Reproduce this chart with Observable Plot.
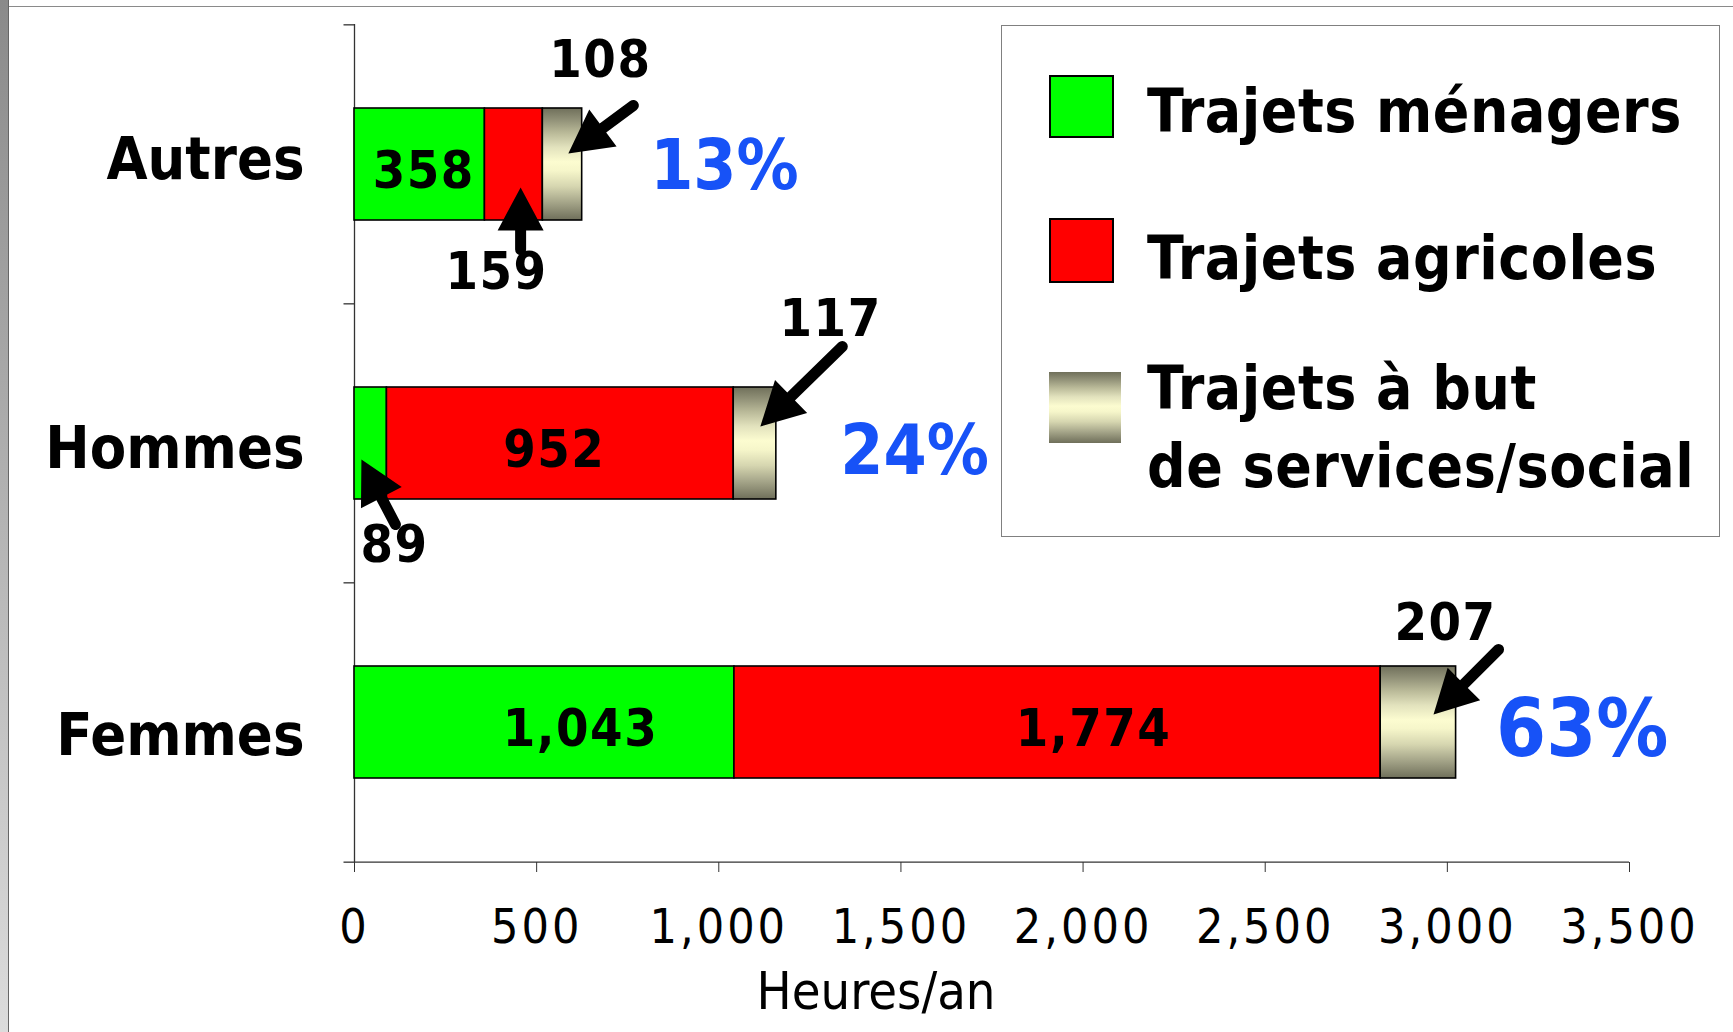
<!DOCTYPE html>
<html>
<head>
<meta charset="utf-8">
<script src="https://cdn.jsdelivr.net/npm/d3@7"></script>
<script src="https://cdn.jsdelivr.net/npm/@observablehq/plot@0.6"></script>
<style>
  html, body { margin: 0; padding: 0; background: #fff; overflow: hidden; width: 1733px; height: 1032px; }
  #chart { position: absolute; left: 0; top: 0; }
  .frameL { position: absolute; left: 0; top: 0; width: 8px; height: 1032px; background: linear-gradient(#8a8a8a, #dcdcdc); border-right: 1px solid #666; }
  .frameT { position: absolute; left: 9px; top: 6px; width: 1724px; height: 1px; background: #8a8a8a; }
  .legend { position: absolute; left: 1001px; top: 25px; width: 717px; height: 510px; border: 1.5px solid #808080; background: #fff;
            font-family: "DejaVu Sans Condensed", "DejaVu Sans", sans-serif; font-weight: bold; font-size: 60px; color: #000; }
  .legend .sw { position: absolute; left: 47px; box-sizing: border-box; }
  .legend .lbl { position: absolute; left: 145px; line-height: 78px; white-space: pre-line; letter-spacing: 0.5px; }
</style>
</head>
<body>
<div id="chart"></div>
<div class="frameL"></div>
<div class="frameT"></div>
<div class="legend" id="legend"></div>
<script>
// ---- data ----
const categories = ["Autres", "Hommes", "Femmes"];
const seriesNames = ["Trajets ménagers", "Trajets agricoles", "Trajets à but\nde services/social"];
const menagers = [358, 89, 1043];
const agricoles = [159, 952, 1774];
const services = [108, 117, 207];
const shares = ["13%", "24%", "63%"];
const xTicks = [0, 500, 1000, 1500, 2000, 2500, 3000, 3500];
const xLabel = "Heures/an";
const seriesColors = ["#00ff00", "#ff0000", "url(#svcGrad)"];

// ---- derived table ----
const seriesValues = [menagers, agricoles, services];
const rows = [];
categories.forEach((c, i) => seriesValues.forEach((v, j) => rows.push({category: c, series: seriesNames[j], si: j, value: v[i]})));
const shareRows = categories.map((c, i) => ({category: c, total: menagers[i] + agricoles[i] + services[i], share: shares[i]}));

// callouts (annotation placement: tip/label anchors in hours, pixel offsets)
const callouts = [
  {category: "Autres", si: 2, tipX: 587, tipDy: -11, tail: [65, -48], labelX: 675, labelDy: -104},
  {category: "Autres", si: 1, tipX: 456, tipDy: 23, tail: [0, 62], labelX: 390, labelDy: 108},
  {category: "Hommes", si: 2, tipX: 1114, tipDy: -17, tail: [82, -80], labelX: 1307, labelDy: -124},
  {category: "Hommes", si: 0, tipX: 19, tipDy: 16, tail: [34, 65], labelX: 110, labelDy: 102},
  {category: "Femmes", si: 2, tipX: 2962, tipDy: -8, tail: [65, -65], labelX: 2995, labelDy: -99}
];
const isCallout = d => callouts.some(c => c.category === d.category && c.si === d.si);
const fmt = d3.format(",");

// ---- layout ----
const W = 1733, H = 1032, mT = 24, mB = 170, mL = 354, mR = 104;
const step = (H - mT - mB) / categories.length;
const FONT = '"DejaVu Sans Condensed", "DejaVu Sans", sans-serif';

function arrowSymbol(tx, ty) {
  const L = Math.hypot(tx, ty), ux = tx / L, uy = ty / L, px = -uy, py = ux;
  const hl = 43, hw = 23, s = 5.5, au = Math.atan2(uy, ux);
  return {draw(ctx) {
    ctx.moveTo(0, 0);
    ctx.lineTo(hl * ux + hw * px, hl * uy + hw * py);
    ctx.lineTo(hl * ux + s * px, hl * uy + s * py);
    ctx.lineTo(L * ux + s * px, L * uy + s * py);
    ctx.arc(L * ux, L * uy, s, au + Math.PI / 2, au - Math.PI / 2, true);
    ctx.lineTo(hl * ux - s * px, hl * uy - s * py);
    ctx.lineTo(hl * ux - hw * px, hl * uy - hw * py);
    ctx.closePath();
  }};
}
const leftTick = {draw(ctx) { ctx.moveTo(-11, 0); ctx.lineTo(0, 0); }};

const pctStyles = [
  {dx: 68, dy: 2, fontSize: 69},
  {dx: 64, dy: 8, fontSize: 69},
  {dx: 40, dy: 8, fontSize: 80}
];
const catDy = [-4, 6, 14];
const innerDx = [4, -6, 36];

const marks = [
  Plot.ruleX([0], {stroke: "#333", strokeWidth: 1.3}),
  Plot.ruleY([categories[categories.length - 1]], {y: d => d, dy: step / 2, stroke: "#333", strokeWidth: 1.3}),
  Plot.dot(categories, {y: d => d, frameAnchor: "left", dy: -step / 2, symbol: leftTick, stroke: "#333", strokeWidth: 1.3, fill: "none"}),
  Plot.dot([categories[categories.length - 1]], {y: d => d, frameAnchor: "left", dy: step / 2, symbol: leftTick, stroke: "#333", strokeWidth: 1.3, fill: "none"}),
  Plot.axisX({ticks: xTicks, tickFormat: d3.format(","), tickSize: 10, tickPadding: 36, fontSize: 48, label: null, stroke: "#333"}),
  Plot.text([xLabel], {text: d => d, frameAnchor: "bottom", dx: -116, dy: 146, fontSize: 52}),
  Plot.barX(rows, Plot.stackX({x: "value", y: "category", fill: "series", stroke: "black", strokeWidth: 1.6})),
  ...categories.map((c, i) => Plot.text(rows, Plot.stackX({x: "value", y: "category",
      text: d => (d.category !== c || isCallout(d)) ? "" : fmt(d.value),
      fontSize: 52, fontWeight: "bold", dy: 7, dx: innerDx[i], fill: "black", className: "num"}))),
  ...categories.map((c, i) => Plot.text([c], {y: d => d, text: d => d, frameAnchor: "left", dx: -50, dy: catDy[i], textAnchor: "end", fontSize: 59, fontWeight: "bold", fill: "black"})),
  ...shareRows.map((r, i) => Plot.text([r], {x: "total", y: "category", text: "share", textAnchor: "start", fill: "#1752f7", fontWeight: "bold", ...pctStyles[i]})),
  ...callouts.flatMap(c => {
    const v = seriesValues[c.si][categories.indexOf(c.category)];
    return [
      Plot.dot([c], {x: "tipX", y: "category", dy: c.tipDy, symbol: arrowSymbol(c.tail[0], c.tail[1]), fill: "black", stroke: "none"}),
      Plot.text([c], {x: "labelX", y: "category", dy: c.labelDy, text: () => fmt(v), fontSize: 52, fontWeight: "bold", fill: "black", className: "num"})
    ];
  })
];

const svg = Plot.plot({
  width: W, height: H,
  marginLeft: mL, marginRight: mR, marginTop: mT, marginBottom: mB,
  style: {fontFamily: FONT, fontSize: "48px", background: "white", overflow: "visible"},
  x: {domain: [0, 3500], axis: null},
  y: {type: "band", domain: categories, paddingInner: 0.6, paddingOuter: 0.3, axis: null},
  color: {domain: seriesNames, range: seriesColors},
  marks
});

const defs = document.createElementNS("http://www.w3.org/2000/svg", "defs");
defs.innerHTML = `<linearGradient id="svcGrad" x1="0" y1="0" x2="0" y2="1">
  <stop offset="0" stop-color="#6f6f5a"/>
  <stop offset="0.1" stop-color="#8f8f76"/>
  <stop offset="0.22" stop-color="#b9b998"/>
  <stop offset="0.35" stop-color="#e2e2bd"/>
  <stop offset="0.48" stop-color="#fcfcd0"/>
  <stop offset="0.56" stop-color="#f6f6ca"/>
  <stop offset="0.7" stop-color="#d6d6b0"/>
  <stop offset="0.84" stop-color="#a6a68a"/>
  <stop offset="1" stop-color="#6f6f5a"/>
</linearGradient>`;
svg.insertBefore(defs, svg.firstChild);
svg.querySelectorAll('g[aria-label="x-axis tick label"] text').forEach(t => t.setAttribute("letter-spacing", "3"));
svg.querySelectorAll('g.num text').forEach(t => t.setAttribute("letter-spacing", "1.5"));
document.getElementById("chart").appendChild(svg);

// ---- legend ----
const legend = document.getElementById("legend");
const swatches = [
  {top: 49, w: 65, h: 63, bg: seriesColors[0], border: "2px solid #000"},
  {top: 192, w: 65, h: 65, bg: seriesColors[1], border: "2px solid #000"},
  {top: 346, w: 72, h: 71, bg: "linear-gradient(#6f6f5a, #8f8f76 10%, #b9b998 22%, #e2e2bd 35%, #fcfcd0 48%, #f6f6ca 56%, #d6d6b0 70%, #a6a68a 84%, #6f6f5a)", border: "none"}
];
const labelTops = [46, 193, 323];
seriesNames.forEach((name, j) => {
  const s = swatches[j];
  const sw = document.createElement("div");
  sw.className = "sw";
  sw.style.cssText = `top:${s.top}px;width:${s.w}px;height:${s.h}px;background:${s.bg};border:${s.border};`;
  legend.appendChild(sw);
  const lb = document.createElement("div");
  lb.className = "lbl";
  lb.style.top = labelTops[j] + "px";
  lb.textContent = name;
  legend.appendChild(lb);
});
</script>
</body>
</html>
